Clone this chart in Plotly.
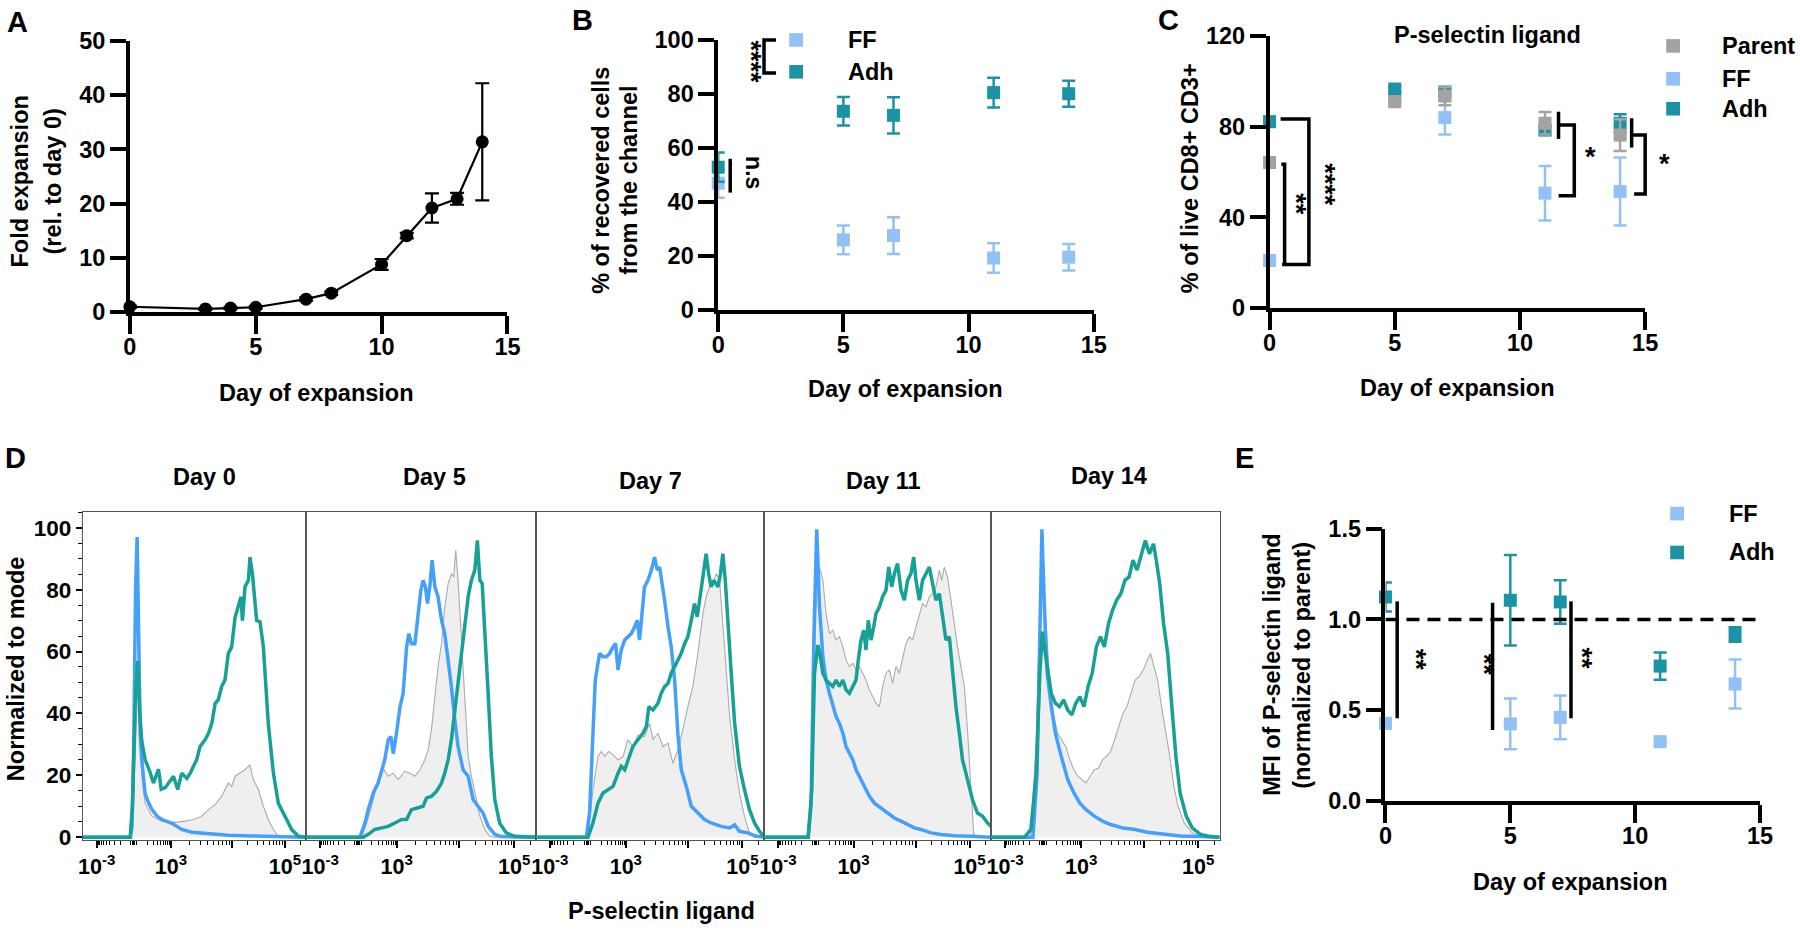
import math
import plotly.graph_objects as go

W, H = 1800, 937
# small calibration so the photographed page lines up with the reference layout
SX, TX, SY, TY = 0.99, 5.0, 0.975, 11.0
F = "Liberation Sans, Arial, Helvetica, sans-serif"

FF_C = "#92c1f6"
ADH_C = "#1b93a5"
PAR_C = "#a3a3a3"
HIST_BLUE = "#44a0fa"
HIST_TEAL = "#16a096"
HIST_GRAY_LINE = "#ababab"
HIST_GRAY_FILL = "#efefef"

# ---------------- Panel A ----------------
a_days = [0, 3, 4, 5, 7, 8, 10, 11, 12, 13, 14]
a_fold = [1.0, 0.6, 0.75, 0.9, 2.4, 3.5, 8.8, 14.1, 19.2, 20.9, 31.4]
a_err = [0.2, 0.2, 0.2, 0.2, 0.3, 0.3, 1.0, 0.5, 2.7, 1.1, 10.8]

# ---------------- Panel B ----------------
b_days = [0, 5, 7, 11, 14]
b_ff = [47.0, 26.0, 27.6, 19.3, 19.6]
b_ff_err = [5.4, 5.3, 6.8, 5.5, 4.9]
b_adh = [52.9, 73.6, 72.1, 80.5, 80.1]
b_adh_err = [5.4, 5.3, 6.7, 5.5, 4.8]

# ---------------- Panel C ----------------
c_days = [0, 5, 7, 11, 14]
c_parent = [64.2, 91.0, 93.5, 81.5, 76.3]
c_parent_err = [1.0, 1.0, 4.0, 5.0, 7.0]
c_ff = [21.0, 93.0, 84.0, 50.7, 51.4]
c_ff_err = [1.0, 1.0, 7.5, 12.0, 15.0]
c_adh = [82.2, 96.6, 95.3, 78.5, 81.5]
c_adh_err = [1.0, 1.0, 1.5, 2.0, 4.0]

# ---------------- Panel E ----------------
e_days = [0, 5, 7, 11, 14]
e_ff = [0.427, 0.424, 0.46, 0.326, 0.644]
e_ff_err = [0.0, 0.14, 0.12, 0.0, 0.135]
e_adh = [1.124, 1.106, 1.097, 0.743, 0.917]
e_adh_err = [0.08, 0.25, 0.12, 0.075, 0.04]

# ---------------- Panel D (channel 0-1000, % of mode) ----------------
d_titles = ["Day 0", "Day 5", "Day 7", "Day 11", "Day 14"]
d_major_ch = [62, 395, 668, 906]
d_major_txt = ["10<sup>-3</sup>", "10<sup>3</sup>", "", "10<sup>5</sup>"]

d0_ff = [(0,0),(212,0),(220,3),(228,30),(236,80),(243,97),(248,75),(252,50),(257,33),(264,25),(272,18),(279,14),(295,11),(309,9),(330,7),(354,5.7),(399,4.5),(443,2.5),(488,1.6),(563,1.1),(652,0.6),(757,0.4),(831,0.2),(1000,0)]
d0_adh = [(0,0),(212,0),(222,10),(235,45),(246,57),(255,40),(264,31),(279,25),(301,21),(316,17.5),(339,22),(351,15.5),(369,16),(384,17.5),(406,19.7),(425,15.4),(443,20.7),(466,19),(481,20.7),(496,23),(510,25),(525,29.3),(548,31.5),(563,33.6),(578,36.8),(593,43.3),(607,44.4),(622,48.7),(637,50.8),(652,59.4),(667,61.5),(682,71),(697,74.4),(709,77.7),(715,70),(727,81),(742,83),(749,90.5),(760,85),(779,70),(794,69.6),(809,61.5),(831,36.8),(854,20.7),(876,11),(906,6.8),(936,2.5),(966,0.3),(1000,0)]
d0_par = [(0,0),(210,0),(225,8),(238,35),(246,50),(254,35),(264,20),(279,11),(309,6.8),(354,5.2),(413,4.8),(458,5.2),(496,5.7),(533,6.8),(563,8.9),(593,10.5),(622,13.2),(652,17.5),(667,16.4),(682,19.7),(704,20.7),(727,21.8),(749,23.4),(764,18.6),(787,15.4),(809,10),(831,5.7),(854,2.5),(876,0.3),(1000,0)]

d5_ff = [(0,0),(235,0),(257,4.6),(271,8.9),(293,14.3),(314,17.5),(343,25),(358,31.5),(370,32.5),(380,27),(394,33.6),(409,42),(423,46.5),(438,61.5),(448,65.8),(459,62.5),(474,62.5),(488,72.3),(500,79.8),(510,83),(520,80.9),(529,75.5),(539,80.9),(549,89.5),(561,80.9),(575,77.7),(590,70.1),(604,65.8),(619,57.2),(633,48.7),(648,37.9),(662,29.3),(684,21.8),(706,19.7),(728,12.1),(749,10),(771,7.8),(793,3.5),(822,0.9),(851,0.2),(1000,0)]
d5_adh = [(0,0),(249,0),(271,0.9),(300,2.5),(329,3),(358,3.5),(387,4.6),(416,5.7),(438,5.7),(459,8.9),(488,9.5),(510,10),(525,12.7),(546,13.2),(568,14.8),(590,17.5),(604,20.7),(619,25),(633,31.5),(648,41.1),(662,50.8),(677,59.4),(691,68),(706,77.7),(720,83),(735,86.3),(746,95.9),(757,83),(767,82),(778,68),(793,46.5),(807,26.1),(822,12.1),(843,4.6),(872,1.4),(909,0.3),(1000,0)]
d5_par = [(0,0),(242,0),(264,4.6),(286,10),(307,16.4),(326,21.8),(336,22.3),(358,19.7),(380,20.7),(401,18.6),(430,21.3),(452,20.7),(474,19.7),(496,21.8),(517,25),(532,28.2),(546,34.7),(561,46.5),(575,55.1),(590,62.6),(604,74.4),(619,82),(633,85.2),(643,84.1),(652,92.7),(662,83),(677,63.7),(691,42.2),(706,26.1),(720,19.7),(735,14.3),(757,6.8),(778,2.5),(800,0.3),(820,0),(1000,0)]

d7_ff = [(0,0),(222,0),(236,7.8),(251,31.5),(261,50.8),(280,59.4),(295,58.3),(309,58.3),(324,59.4),(339,61.5),(350,62.6),(361,54),(375,60.5),(390,63.7),(404,64.8),(419,65.8),(434,68),(445,70.1),(455,63.7),(466,72.3),(477,80.9),(492,83),(507,86.3),(521,90.5),(533,86.3),(543,87.3),(553,83),(565,76.6),(580,68),(594,61.5),(609,50.8),(623,33.6),(638,21.8),(660,16.4),(682,10),(711,7.8),(740,5.7),(769,4.6),(813,3.5),(850,3),(872,4),(893,1.9),(930,1.4),(959,0.5),(1000,0)]
d7_adh = [(0,0),(229,0),(251,4.6),(273,11),(295,14.3),(317,15.4),(339,16.4),(361,20.7),(375,22.9),(390,21.8),(404,25),(426,29.3),(448,31.5),(470,33.6),(485,35.8),(496,42.2),(514,41.1),(536,43.3),(550,46.5),(565,48.7),(580,49.7),(594,53),(609,55.1),(623,57.3),(638,59.4),(653,62.6),(667,64.8),(682,70.1),(696,75.5),(708,71.2),(718,76.6),(733,83),(747,91.6),(758,85.2),(769,80.9),(781,83),(799,80.9),(810,85.2),(820,91.6),(831,83),(842,69),(857,53),(872,36.8),(893,22.9),(915,15.4),(937,8.9),(959,4.6),(981,1.9),(1000,0.3)]
d7_par = [(0,0),(229,0),(251,15.4),(273,26.1),(288,27.7),(302,26.1),(320,27.7),(339,26.6),(361,25),(383,26.1),(404,31.5),(426,29.3),(448,33),(477,32.5),(499,36.8),(514,31.5),(536,33.6),(558,29.3),(580,30.4),(601,23.9),(623,28.2),(645,34.7),(667,42.2),(689,48.7),(711,59.4),(733,72.3),(747,77.7),(762,80.9),(777,82),(791,85.2),(806,83),(820,69),(835,53),(850,39),(872,25),(893,14.3),(915,6.8),(937,1.4),(959,0),(1000,0)]

d11_ff = [(0,0),(194,0),(208,10),(220,63.7),(233,99.5),(245,74.4),(260,58.3),(274,50.8),(289,46.5),(304,42.2),(318,39),(333,36.8),(348,33.6),(362,29.3),(377,27.2),(392,25),(406,21.8),(421,19.7),(443,16.4),(465,13.2),(487,11),(516,9.5),(545,7.8),(575,6.2),(604,5.2),(633,4.1),(663,3),(692,2.5),(736,1.4),(780,0.9),(839,0.5),(912,0.3),(1000,0)]
d11_adh = [(0,0),(196,0),(211,15.4),(223,53),(238,62.1),(249,58.3),(260,53),(274,50.8),(289,49.7),(304,48.7),(318,50.8),(333,48.7),(348,50.8),(362,47.6),(377,46.5),(392,48.7),(406,50.8),(416,57.3),(428,63.7),(440,66.9),(450,60.5),(460,70.1),(472,63.7),(484,68),(494,72.3),(509,74.4),(523,77.7),(538,79.8),(550,87.3),(563,80.9),(575,85.2),(589,88.4),(604,79.8),(619,76.6),(633,83),(648,85.2),(660,90.5),(670,83),(685,76.6),(699,83),(714,85.2),(729,87.3),(743,82),(758,76.6),(773,78.7),(787,72.3),(802,63.7),(817,64.8),(831,53),(846,42.2),(861,33.6),(875,25),(897,18.6),(919,12.1),(941,7.8),(963,6.8),(985,4.6),(1000,3.5)]
d11_par = [(0,0),(200,0),(216,31.5),(230,74.4),(245,87.3),(260,83),(274,72.3),(289,65.8),(304,66.9),(318,63.7),(333,64.8),(348,61.5),(362,57.3),(377,55.1),(392,56.2),(406,54),(421,55.1),(435,53),(450,50.8),(465,47.6),(479,45.4),(494,43.3),(509,42.2),(523,48.7),(538,53),(553,54),(567,49.7),(582,55.1),(597,53),(611,57.3),(626,62.6),(641,64.8),(655,63.7),(670,68),(685,72.3),(699,75.5),(714,74.4),(729,77.7),(743,78.7),(758,80.9),(773,86.3),(783,83),(795,87.3),(809,84.1),(824,76.6),(839,68),(853,61.5),(868,55.1),(883,48.7),(897,34.7),(912,15.4),(924,1.4),(934,0),(1000,0)]

d14_ff = [(0,0),(184,0),(202,20.7),(214,63.7),(223,99.5),(234,74.4),(246,53),(264,42.2),(282,33.6),(300,28.2),(318,22.9),(336,18.6),(363,14.3),(389,11),(416,8.9),(452,6.8),(488,5.2),(523,4.1),(577,3),(630,2.5),(684,1.6),(755,0.9),(827,0.4),(916,0.2),(1000,0)]
d14_adh = [(0,0),(148,0),(175,2.5),(198,20.7),(214,53),(225,66.4),(238,59.4),(252,53),(264,46.5),(282,43.3),(300,42.2),(318,44.4),(336,41.1),(354,39.5),(371,43.3),(389,45.4),(407,42.2),(425,48.7),(443,53),(461,61.5),(479,64.8),(496,61.5),(514,69),(532,73.4),(550,76.6),(568,78.7),(586,83),(604,84.1),(621,89.5),(639,86.3),(657,91.6),(675,95.9),(693,91.6),(711,94.8),(723,89.5),(738,82),(755,69),(773,59.4),(791,42.2),(809,26.1),(827,14.3),(854,6.8),(880,3),(916,0.9),(952,0.3),(1000,0)]
d14_par = [(0,0),(175,0),(198,31.5),(214,74.4),(229,79.8),(241,69),(255,53),(273,40),(291,33.6),(309,31.5),(327,29.3),(345,25),(363,21.8),(380,19.7),(398,18.6),(416,17.5),(434,19.7),(452,21.8),(470,22.3),(488,25),(505,26.1),(523,27.7),(541,31.5),(559,35.8),(577,40),(595,42.2),(613,46.5),(630,50.8),(648,51.9),(666,54),(684,57.3),(698,59.4),(713,55.1),(729,50.8),(746,42.2),(764,34.7),(782,26.1),(800,16.4),(818,10),(845,4.6),(880,1.4),(916,0.2),(940,0),(1000,0)]

d_ff_curves = [d0_ff, d5_ff, d7_ff, d11_ff, d14_ff]
d_adh_curves = [d0_adh, d5_adh, d7_adh, d11_adh, d14_adh]
d_par_curves = [d0_par, d5_par, d7_par, d11_par, d14_par]


# ---------------- helpers ----------------
def xd(px):
    return ((px - TX) / SX) / W


def yd(py):
    return 1 - ((py - TY) / SY) / H


def bfont(size=23.5, color="black"):
    return dict(family=F, size=size, color=color, weight="bold")


def axis_style(domain, rng, dtick, anchor, is_x):
    d = dict(domain=domain, range=rng, anchor=anchor, showline=True,
             linewidth=3.5, linecolor="black", ticks="outside",
             ticklen=18 if is_x else 16, tickwidth=3.5, tickcolor="black",
             showgrid=False, zeroline=False, tickmode="linear", tick0=0,
             dtick=dtick, tickfont=bfont(23.5), fixedrange=True)
    if is_x:
        d["ticklabelstandoff"] = -7
    return d


# minor tick positions for the biexponential axis (channel units)
def minor_ticks():
    t = []
    for k in range(2, 10):
        t.append(395 + 273 * math.log10(k))
        t.append(668 + 238 * math.log10(k))
    t.append(906 + 238 * math.log10(2))
    for k in range(1, 10):
        p = 241 + 154 * math.log10(k)
        t.append(p)
        t.append(227 - (p - 227) * 0.99)
    t += [221, 224, 227, 230, 233]
    return sorted(t)


fig = go.Figure()

# ---------------- axes ----------------
layout_axes = {}
layout_axes["xaxis"] = axis_style([xd(128), xd(506)], [0, 15], 5, "y", True)
layout_axes["yaxis"] = axis_style([yd(311), yd(39)], [0, 50], 10, "x", False)
layout_axes["xaxis2"] = axis_style([xd(717), xd(1093)], [0, 15], 5, "y2", True)
layout_axes["yaxis2"] = axis_style([yd(309), yd(38)], [0, 100], 20, "x2", False)
layout_axes["xaxis3"] = axis_style([xd(1269), xd(1645)], [0, 15], 5, "y3", True)
layout_axes["yaxis3"] = axis_style([yd(307), yd(34)], [0, 120], 40, "x3", False)
layout_axes["xaxis4"] = axis_style([xd(1385), xd(1760)], [0, 15], 5, "y4", True)
layout_axes["yaxis4"] = axis_style([yd(801), yd(528.3)], [0, 1.5], 0.5, "x4", False)
layout_axes["yaxis4"]["tickformat"] = ".1f"

d_boxes = [(81, 304.3), (304.3, 534.3), (534.3, 762.7), (762.7, 990), (990, 1219)]
mt = minor_ticks()
for i, (l, r) in enumerate(d_boxes):
    n = 5 + i
    layout_axes[f"xaxis{n}"] = dict(
        domain=[xd(l), xd(r)], range=[0, 1000], anchor=f"y{n}",
        showline=True, mirror=True, linewidth=1.3, linecolor="#555555",
        ticks="outside", ticklen=7, tickwidth=1.5, tickcolor="black",
        tickmode="array", tickvals=d_major_ch, ticktext=d_major_txt,
        tickfont=bfont(21.5), showgrid=False, zeroline=False, fixedrange=True,
        minor=dict(tickmode="array", tickvals=mt, ticks="outside", ticklen=4,
                   tickwidth=1, tickcolor="black", showgrid=False))
    ya = dict(domain=[yd(840), yd(511.7)], range=[-0.8, 105], anchor=f"x{n}",
              showline=True, mirror=True, linewidth=1.3, linecolor="#555555",
              showgrid=False, zeroline=False, fixedrange=True)
    if i == 0:
        ya.update(ticks="outside", ticklen=6, tickwidth=1.5, tickcolor="black",
                  tickmode="linear", tick0=0, dtick=20, tickfont=bfont(22.5),
                  minor=dict(dtick=5, ticks="outside", ticklen=3.5, tickwidth=1,
                             tickcolor="black", showgrid=False))
    else:
        ya.update(ticks="", showticklabels=False)
    layout_axes[f"yaxis{n}"] = ya

# ---------------- traces ----------------
fig.add_trace(go.Scatter(x=a_days, y=a_fold, mode="lines+markers", xaxis="x", yaxis="y",
                         line=dict(color="black", width=2.2),
                         marker=dict(size=13, color="black"),
                         error_y=dict(type="data", array=a_err, color="black", thickness=2.2, width=7),
                         cliponaxis=False, showlegend=False))


def sq_trace(x, y, err, color, xa, ya, size=13):
    return go.Scatter(x=x, y=y, mode="markers", xaxis=xa, yaxis=ya,
                      marker=dict(symbol="square", size=size, color=color),
                      error_y=dict(type="data", array=err, color=color, thickness=2.5, width=6.5),
                      cliponaxis=False, showlegend=False)


fig.add_trace(sq_trace(b_days, b_ff, b_ff_err, FF_C, "x2", "y2"))
fig.add_trace(sq_trace(b_days, b_adh, b_adh_err, ADH_C, "x2", "y2"))
fig.add_trace(sq_trace(c_days, c_ff, c_ff_err, FF_C, "x3", "y3"))
fig.add_trace(sq_trace(c_days, c_adh, c_adh_err, ADH_C, "x3", "y3"))
fig.add_trace(sq_trace(c_days, c_parent, c_parent_err, PAR_C, "x3", "y3"))
fig.add_trace(sq_trace(e_days, e_ff, e_ff_err, FF_C, "x4", "y4"))
fig.add_trace(sq_trace(e_days, e_adh, e_adh_err, ADH_C, "x4", "y4"))

for i in range(5):
    n = 5 + i
    xa, ya = f"x{n}", f"y{n}"
    px_, py_ = zip(*d_par_curves[i])
    fig.add_trace(go.Scatter(x=px_, y=py_, mode="lines", xaxis=xa, yaxis=ya, fill="tozeroy",
                             fillcolor=HIST_GRAY_FILL, line=dict(color=HIST_GRAY_LINE, width=1.1),
                             showlegend=False))
    bx, by = zip(*d_ff_curves[i])
    fig.add_trace(go.Scatter(x=bx, y=by, mode="lines", xaxis=xa, yaxis=ya,
                             line=dict(color=HIST_BLUE, width=3.5), showlegend=False))
    tx, ty = zip(*d_adh_curves[i])
    fig.add_trace(go.Scatter(x=tx, y=ty, mode="lines", xaxis=xa, yaxis=ya,
                             line=dict(color=HIST_TEAL, width=3.5), showlegend=False))

# ---------------- shapes ----------------
shapes = []
ranges = {"2": ([0, 15], [0, 100]), "3": ([0, 15], [0, 120]), "4": ([0, 15], [0, 1.5])}


def bracket(ax, pts, width=3.5):
    xr, yr = ranges[ax]
    path = ""
    for j, (x, y) in enumerate(pts):
        fx = (x - xr[0]) / (xr[1] - xr[0])
        fy = (y - yr[0]) / (yr[1] - yr[0])
        path += ("M" if j == 0 else "L") + f"{fx:.5f},{fy:.5f} "
    return dict(type="path", path=path, xref=f"x{ax} domain", yref=f"y{ax} domain",
                line=dict(color="black", width=width), layer="above")


shapes.append(bracket("2", [(2.31, 100), (1.83, 100), (1.83, 87.8), (2.31, 87.8)]))
shapes.append(bracket("2", [(0.48, 56), (0.48, 43.5)]))
shapes.append(bracket("3", [(0.44, 83.4), (1.57, 83.4), (1.57, 19.2), (0.5, 19.2)]))
shapes.append(bracket("3", [(0.47, 63.4), (0.6, 63.4), (0.6, 19.2)]))
shapes.append(bracket("3", [(11.54, 86.6), (11.54, 74.6)]))
shapes.append(bracket("3", [(11.54, 80.7), (12.17, 80.7), (12.17, 49.5), (11.54, 49.5)]))
shapes.append(bracket("3", [(14.46, 83.7), (14.46, 70.8)]))
shapes.append(bracket("3", [(14.46, 76.3), (15.0, 76.3), (15.0, 50.3), (14.56, 50.3)]))
shapes.append(bracket("4", [(0.47, 1.10), (0.47, 0.455)]))
shapes.append(bracket("4", [(4.29, 1.093), (4.29, 0.39)]))
shapes.append(bracket("4", [(7.43, 1.10), (7.43, 0.455)]))
shapes.append(dict(type="line", xref="x4", yref="y4", x0=0, x1=15, y0=1, y1=1,
                   line=dict(color="black", width=3.5, dash="13px,8px"), layer="above"))


def legend_sq(cx, cy, color, s=14):
    return dict(type="rect", xref="paper", yref="paper",
                x0=xd(cx) - s / 2 / W, x1=xd(cx) + s / 2 / W,
                y0=yd(cy) - s / 2 / H, y1=yd(cy) + s / 2 / H,
                fillcolor=color, line=dict(width=0), layer="above")


shapes += [legend_sq(795, 38, FF_C), legend_sq(795, 70, ADH_C)]
shapes += [legend_sq(1673, 44, PAR_C), legend_sq(1673, 77, FF_C), legend_sq(1673, 107, ADH_C)]
shapes += [legend_sq(1677, 513, FF_C), legend_sq(1677, 552, ADH_C)]

# ---------------- annotations ----------------
ann = []


def txt(s, px, py, size=23.5, angle=0, xanchor="center"):
    ann.append(dict(text=s, x=xd(px), y=yd(py), xref="paper", yref="paper", showarrow=False,
                    font=bfont(size), textangle=angle, xanchor=xanchor, yanchor="middle"))


def dtxt(s, ax, x, y, size=27, angle=90):
    ann.append(dict(text=s, x=x, y=y, xref=f"x{ax}", yref=f"y{ax}", showarrow=False,
                    font=bfont(size), textangle=angle, xanchor="center", yanchor="middle"))


txt("A", 16, 20, 29)
txt("B", 581, 18, 29)
txt("C", 1168, 18, 29)
txt("D", 14, 457, 29)
txt("E", 1244, 457, 29)

txt("Day of expansion", 315, 392)
txt("Fold expansion", 18, 180, angle=-90)
txt("(rel. to day 0)", 51, 180, angle=-90)
txt("Day of expansion", 905, 388)
txt("% of recovered cells", 599, 179, angle=-90)
txt("from the channel", 627, 179, angle=-90)
txt("Day of expansion", 1457, 387)
txt("% of live CD8+ CD3+", 1189, 177, angle=-90)
txt("P-selectin ligand", 1487, 33)
txt("Day of expansion", 1570, 882)
txt("MFI of P-selectin ligand", 1272, 665, angle=-90)
txt("(normalized to parent)", 1302, 665, angle=-90)
txt("Normalized to mode", 14, 668, angle=-90)
txt("P-selectin ligand", 660, 912)

for s, (cx, cy) in zip(d_titles, [(203, 476), (433, 476), (649, 480), (882, 480), (1108, 475)]):
    txt(s, cx, cy)

txt("FF", 845, 38, xanchor="left")
txt("Adh", 845, 70, xanchor="left")
txt("Parent", 1720, 44, xanchor="left")
txt("FF", 1720, 77, xanchor="left")
txt("Adh", 1720, 107, xanchor="left")
txt("FF", 1727, 513, xanchor="left")
txt("Adh", 1727, 552, xanchor="left")

dtxt("****", "2", 1.32, 91.9)
dtxt("n.s", "2", 1.4, 51, size=23)
dtxt("**", "3", 1.08, 46)
dtxt("****", "3", 2.23, 54.4)
dtxt("*", "3", 12.8, 66.8, angle=0)
txt("*", 1664, 162, size=27)
dtxt("**", "4", 1.2, 0.776)
dtxt("**", "4", 3.93, 0.753)
dtxt("**", "4", 7.87, 0.785)

fig.update_layout(width=W, height=H, margin=dict(l=0, r=0, t=0, b=0),
                  paper_bgcolor="white", plot_bgcolor="rgba(0,0,0,0)",
                  shapes=shapes, annotations=ann, showlegend=False,
                  font=dict(family=F, color="black"), **layout_axes)

fig.write_html("out.html", config={"displayModeBar": False},
               post_script="document.body.style.margin='0px';")
